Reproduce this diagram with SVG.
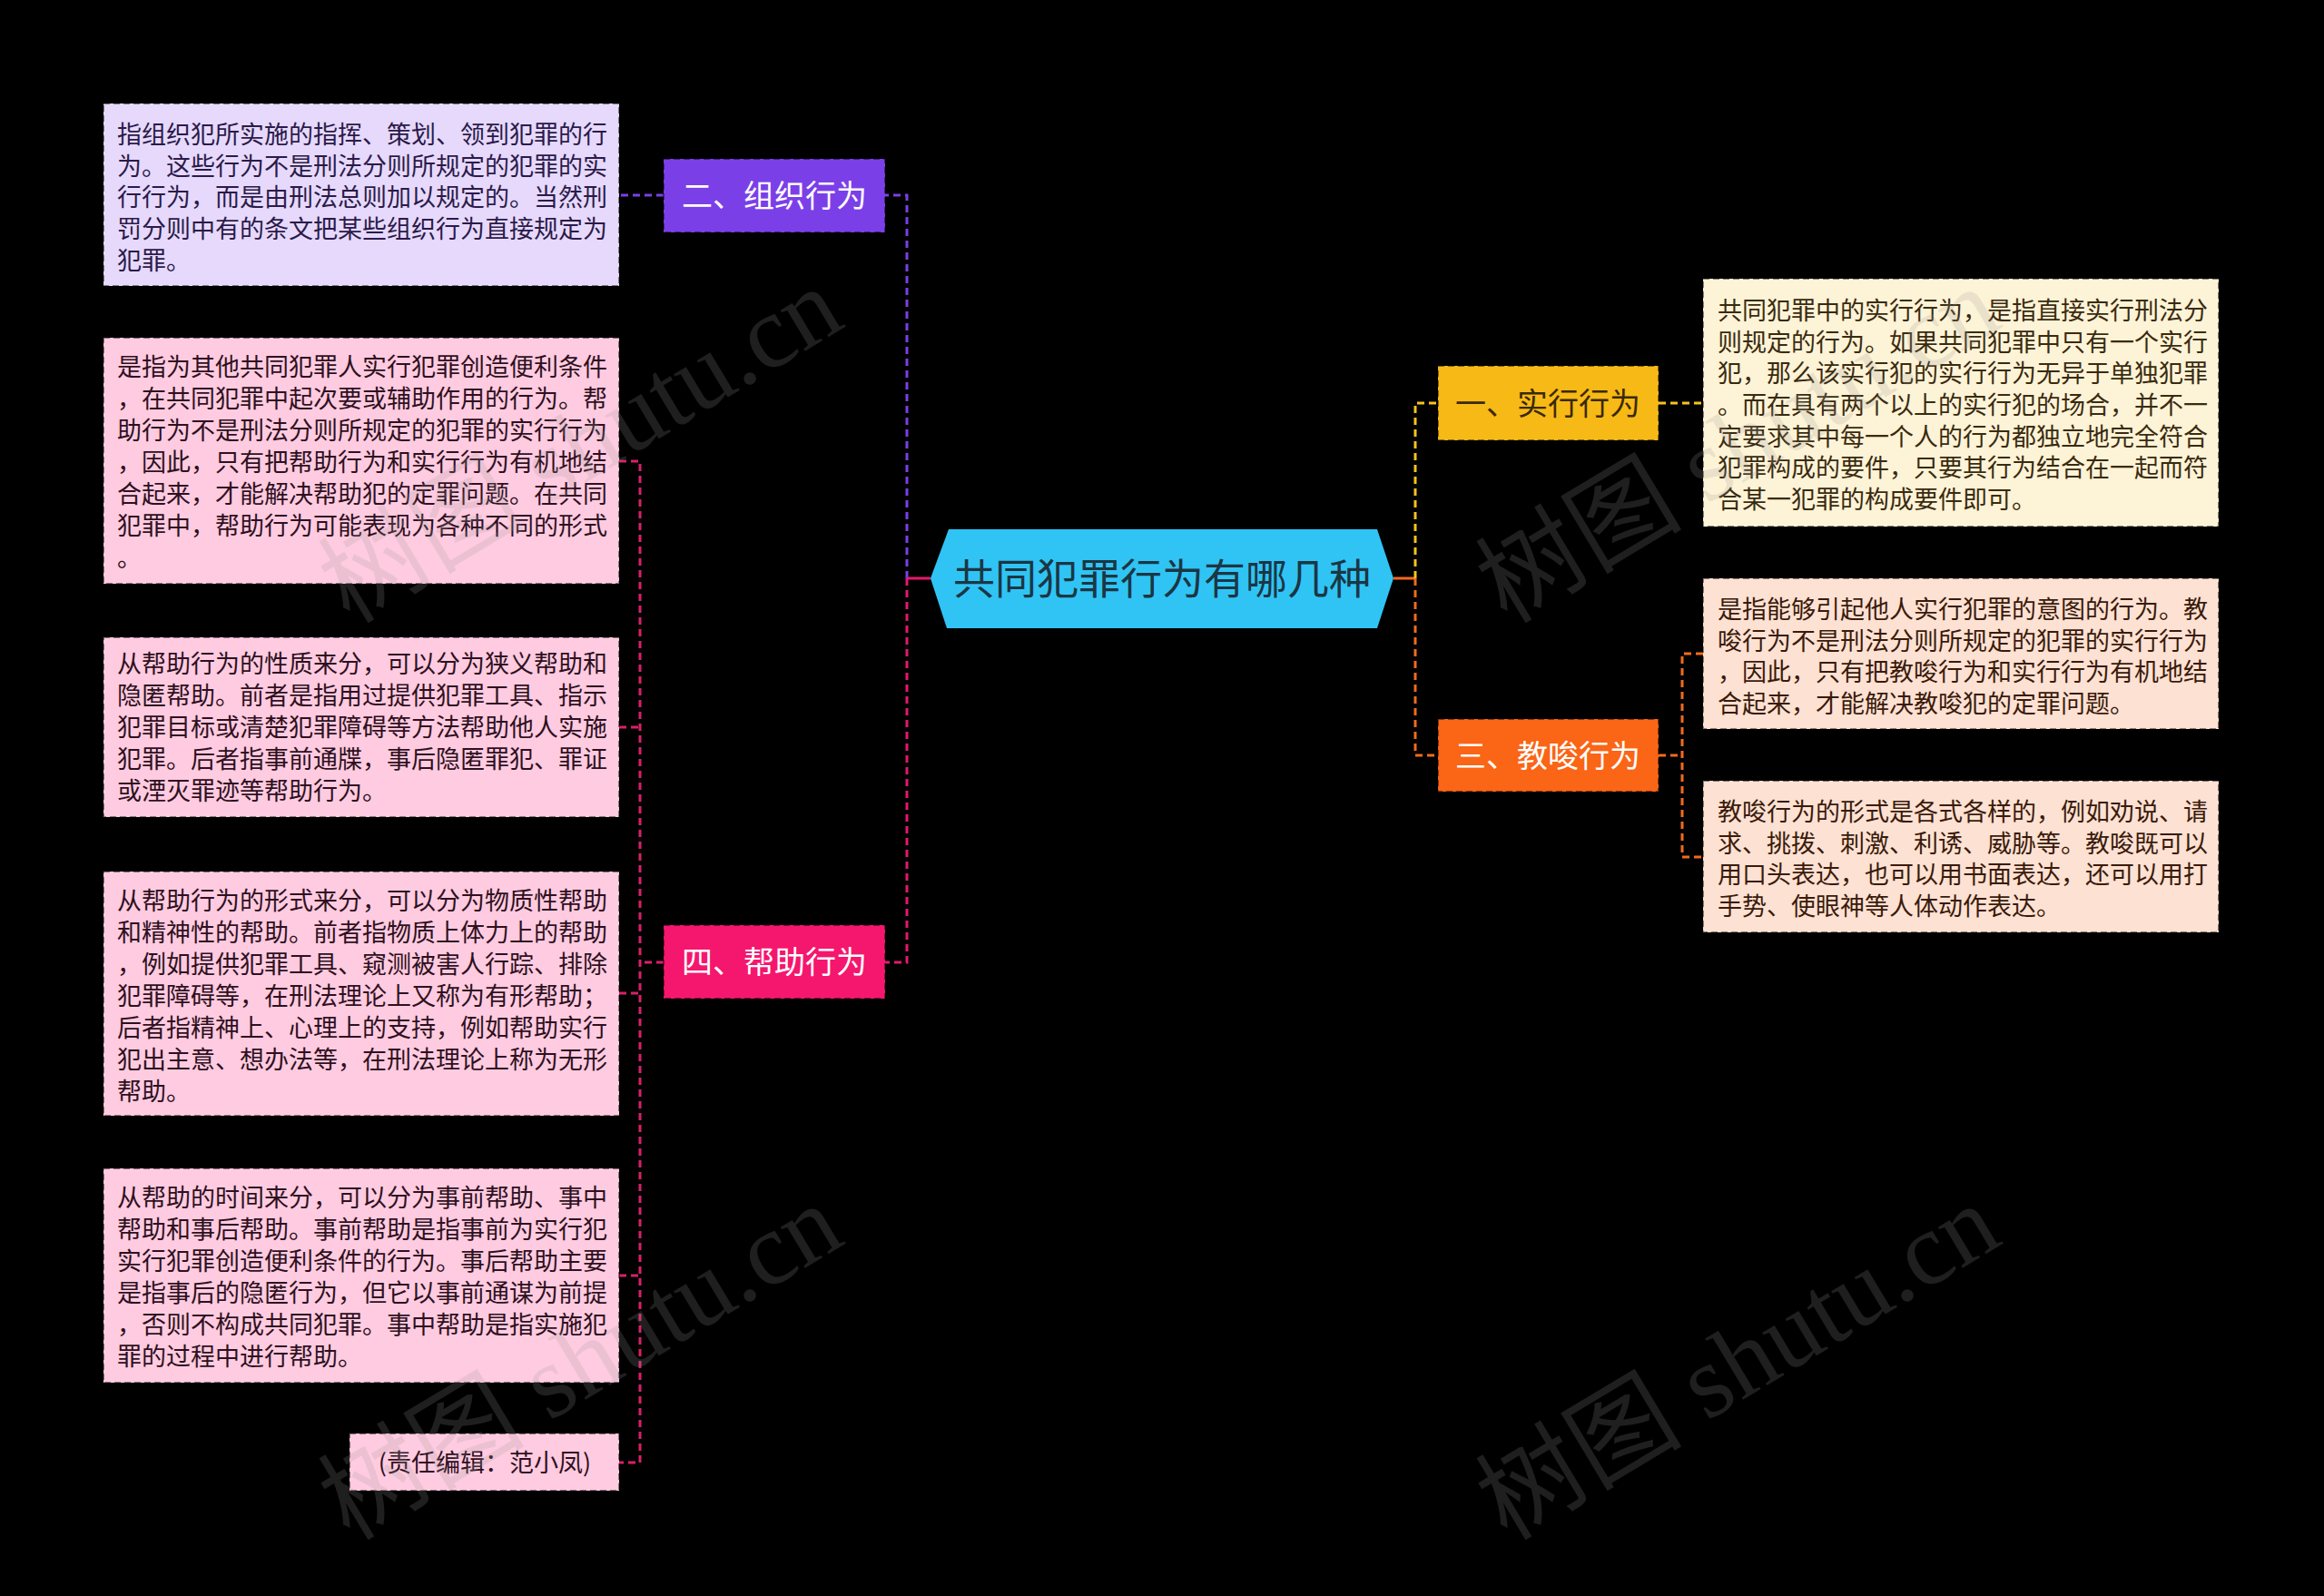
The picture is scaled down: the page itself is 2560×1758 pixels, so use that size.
<svg xmlns="http://www.w3.org/2000/svg" width="2560" height="1758" viewBox="0 0 2560 1758">
<style>
.leaf{stroke:#000;stroke-opacity:0.45;stroke-width:2;stroke-dasharray:7 4}
.br{stroke:#000;stroke-opacity:0.45;stroke-width:2;stroke-dasharray:7 4}
.lt{font-family:"Noto Sans CJK SC","Noto Sans",sans-serif;font-size:27px;dominant-baseline:central}
.bt{font-family:"Noto Sans CJK SC","Noto Sans",sans-serif;font-size:34px;dominant-baseline:central;text-anchor:middle}
.c{fill:none;stroke-width:3;stroke-dasharray:8 5}
.wm{font-family:"Liberation Serif","Noto Sans CJK SC",serif;font-size:114px;fill:#9a9a9a;fill-opacity:0.2}
</style>
<rect width="2560" height="1758" fill="#000"/>
<g id="connectors">
<path d="M999 637 H1025" stroke="#e6176e" stroke-width="3" fill="none"/>
<path d="M1535 637 H1560" stroke="#f26a1c" stroke-width="3" fill="none"/>
<path class="c" d="M999 637 V215 H975" stroke="#7b3fe8"/>
<path class="c" d="M999 637 V1060 H975" stroke="#e6176e"/>
<path class="c" d="M1559 637 V444 H1584" stroke="#f7c21c"/>
<path class="c" d="M1559 637 V832 H1584" stroke="#f26a1c"/>
<path class="c" d="M731 215 H682" stroke="#7b3fe8"/>
<path class="c" d="M1827 444 H1876" stroke="#f7c21c"/>
<path class="c" d="M1827 832 H1853 M1876 720 H1853 V944 H1876" stroke="#f26a1c"/>
<path class="c" d="M731 1060 H705 M682 508 H705 V1611 H682 M682 801 H705 M682 1094 H705 M682 1405 H705" stroke="#d9206a"/>
</g>
<g id="root">
<polygon points="1025,637 1045,583 1517,583 1535,637 1517,692 1043,692" fill="#30c4f4"/>
<text x="1280" y="634" font-family="Noto Sans CJK SC,Noto Sans,sans-serif" font-size="46" fill="#1b3644" text-anchor="middle" dominant-baseline="central">共同犯罪行为有哪几种</text>
</g>
<g id="b2">
<rect class="br" x="731" y="175" width="244" height="81" fill="#7b3fe8"/>
<text class="bt" x="853" y="213" fill="#fff">二、组织行为</text>
</g>
<g id="b4">
<rect class="br" x="731" y="1019" width="244" height="81" fill="#f5166e"/>
<text class="bt" x="853" y="1057" fill="#fff">四、帮助行为</text>
</g>
<g id="b1">
<rect class="br" x="1584" y="403" width="243" height="82" fill="#f7b916"/>
<text class="bt" x="1705" y="442" fill="#3a2a05">一、实行行为</text>
</g>
<g id="b3">
<rect class="br" x="1584" y="792" width="243" height="80" fill="#fa6516"/>
<text class="bt" x="1705" y="830" fill="#fff">三、教唆行为</text>
</g>
<g id="l2">
<rect class="leaf" x="114" y="114" width="568" height="201" fill="#e6d9fb"/>
<text class="lt" fill="#2b1a4a"><tspan x="129" y="146">指组织犯所实施的指挥、策划、领到犯罪的行</tspan><tspan x="129" y="181">为。这些行为不是刑法分则所规定的犯罪的实</tspan><tspan x="129" y="215">行行为，而是由刑法总则加以规定的。当然刑</tspan><tspan x="129" y="250">罚分则中有的条文把某些组织行为直接规定为</tspan><tspan x="129" y="285">犯罪。</tspan></text>
</g>
<g id="l4a">
<rect class="leaf" x="114" y="372" width="568" height="271" fill="#ffcbe0"/>
<text class="lt" fill="#2e1020"><tspan x="129" y="402">是指为其他共同犯罪人实行犯罪创造便利条件</tspan><tspan x="129" y="437">，在共同犯罪中起次要或辅助作用的行为。帮</tspan><tspan x="129" y="472">助行为不是刑法分则所规定的犯罪的实行行为</tspan><tspan x="129" y="507">，因此，只有把帮助行为和实行行为有机地结</tspan><tspan x="129" y="542">合起来，才能解决帮助犯的定罪问题。在共同</tspan><tspan x="129" y="577">犯罪中，帮助行为可能表现为各种不同的形式</tspan><tspan x="129" y="612">。</tspan></text>
</g>
<g id="l4b">
<rect class="leaf" x="114" y="702" width="568" height="198" fill="#ffcbe0"/>
<text class="lt" fill="#2e1020"><tspan x="129" y="729">从帮助行为的性质来分，可以分为狭义帮助和</tspan><tspan x="129" y="764">隐匿帮助。前者是指用过提供犯罪工具、指示</tspan><tspan x="129" y="799">犯罪目标或清楚犯罪障碍等方法帮助他人实施</tspan><tspan x="129" y="834">犯罪。后者指事前通牒，事后隐匿罪犯、罪证</tspan><tspan x="129" y="869">或湮灭罪迹等帮助行为。</tspan></text>
</g>
<g id="l4c">
<rect class="leaf" x="114" y="960" width="568" height="269" fill="#ffcbe0"/>
<text class="lt" fill="#2e1020"><tspan x="129" y="990">从帮助行为的形式来分，可以分为物质性帮助</tspan><tspan x="129" y="1025">和精神性的帮助。前者指物质上体力上的帮助</tspan><tspan x="129" y="1060">，例如提供犯罪工具、窥测被害人行踪、排除</tspan><tspan x="129" y="1095">犯罪障碍等，在刑法理论上又称为有形帮助；</tspan><tspan x="129" y="1130">后者指精神上、心理上的支持，例如帮助实行</tspan><tspan x="129" y="1165">犯出主意、想办法等，在刑法理论上称为无形</tspan><tspan x="129" y="1200">帮助。</tspan></text>
</g>
<g id="l4d">
<rect class="leaf" x="114" y="1287" width="568" height="236" fill="#ffcbe0"/>
<text class="lt" fill="#2e1020"><tspan x="129" y="1317">从帮助的时间来分，可以分为事前帮助、事中</tspan><tspan x="129" y="1352">帮助和事后帮助。事前帮助是指事前为实行犯</tspan><tspan x="129" y="1387">实行犯罪创造便利条件的行为。事后帮助主要</tspan><tspan x="129" y="1422">是指事后的隐匿行为，但它以事前通谋为前提</tspan><tspan x="129" y="1457">，否则不构成共同犯罪。事中帮助是指实施犯</tspan><tspan x="129" y="1492">罪的过程中进行帮助。</tspan></text>
</g>
<g id="l4e">
<rect class="leaf" x="385" y="1579" width="297" height="63" fill="#ffcbe0"/>
<text class="lt" x="534" y="1609" fill="#2e1020" text-anchor="middle">(责任编辑：范小凤)</text>
</g>
<g id="l1">
<rect class="leaf" x="1876" y="307" width="568" height="273" fill="#fdf3d6"/>
<text class="lt" fill="#3a2a10"><tspan x="1892" y="340">共同犯罪中的实行行为，是指直接实行刑法分</tspan><tspan x="1892" y="375">则规定的行为。如果共同犯罪中只有一个实行</tspan><tspan x="1892" y="409">犯，那么该实行犯的实行行为无异于单独犯罪</tspan><tspan x="1892" y="444">。而在具有两个以上的实行犯的场合，并不一</tspan><tspan x="1892" y="479">定要求其中每一个人的行为都独立地完全符合</tspan><tspan x="1892" y="513">犯罪构成的要件，只要其行为结合在一起而符</tspan><tspan x="1892" y="548">合某一犯罪的构成要件即可。</tspan></text>
</g>
<g id="l3a">
<rect class="leaf" x="1876" y="637" width="568" height="166" fill="#fde1d3"/>
<text class="lt" fill="#3a1a0a"><tspan x="1892" y="669">是指能够引起他人实行犯罪的意图的行为。教</tspan><tspan x="1892" y="704">唆行为不是刑法分则所规定的犯罪的实行行为</tspan><tspan x="1892" y="738">，因此，只有把教唆行为和实行行为有机地结</tspan><tspan x="1892" y="773">合起来，才能解决教唆犯的定罪问题。</tspan></text>
</g>
<g id="l3b">
<rect class="leaf" x="1876" y="860" width="568" height="167" fill="#fde1d3"/>
<text class="lt" fill="#3a1a0a"><tspan x="1892" y="892">教唆行为的形式是各式各样的，例如劝说、请</tspan><tspan x="1892" y="927">求、挑拨、刺激、利诱、威胁等。教唆既可以</tspan><tspan x="1892" y="961">用口头表达，也可以用书面表达，还可以用打</tspan><tspan x="1892" y="996">手势、使眼神等人体动作表达。</tspan></text>
</g>
<g id="watermarks">
<text class="wm" transform="translate(385,688) rotate(-31)">树图 shutu.cn</text>
<text class="wm" transform="translate(1660,688) rotate(-31)">树图 shutu.cn</text>
<text class="wm" transform="translate(385,1698) rotate(-31)">树图 shutu.cn</text>
<text class="wm" transform="translate(1660,1698) rotate(-31)">树图 shutu.cn</text>
</g>
</svg>
